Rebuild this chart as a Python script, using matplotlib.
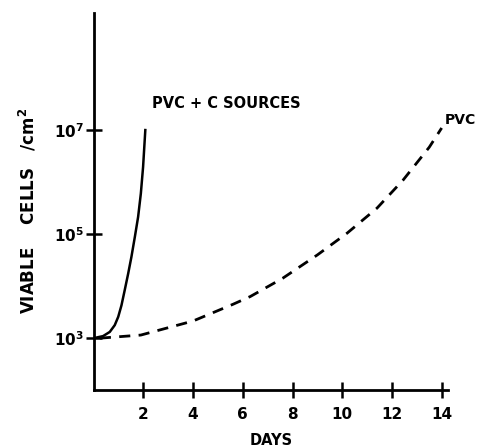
import matplotlib
matplotlib.use("Agg")
import matplotlib.pyplot as plt

# days / log10(viable cells per cm^2)
days_carbon = [0.0, 0.38, 0.65, 0.85, 0.99, 1.12, 1.25, 1.39, 1.52, 1.66,
               1.79, 1.9, 1.99, 2.08]
log_cells_carbon = [3.0, 3.04, 3.12, 3.25, 3.41, 3.63, 3.92, 4.24, 4.56, 4.95,
                    5.33, 5.78, 6.29, 7.0]

days_pvc = [0.25, 1.9, 4.0, 5.6, 6.3, 7.6, 9.0, 10.2, 11.4, 12.45, 13.5, 14.0]
log_cells_pvc = [3.0, 3.06, 3.33, 3.65, 3.8, 4.15, 4.6, 5.02, 5.5, 6.04, 6.67, 7.04]

x_ticks = [2, 4, 6, 8, 10, 12, 14]
y_ticks = [3, 5, 7]

plt.rcParams["font.family"] = ["DejaVu Sans"]
plt.rcParams["font.weight"] = "bold"
plt.rcParams["mathtext.default"] = "bf"
plt.rcParams["lines.scale_dashes"] = False

fig = plt.figure(figsize=(4.85, 4.48), dpi=100)
ax = fig.add_axes([0.193, 0.129, 0.731, 0.842])

ax.plot(days_carbon, [10 ** v for v in log_cells_carbon], color="black", lw=1.8)
ax.plot(days_pvc, [10 ** v for v in log_cells_pvc], color="black", lw=2.0,
        dashes=(8, 6))

ax.set_yscale("log")
ax.set_xlim(0, 14.26)
ax.set_ylim(10 ** 2.0, 10 ** 9.25)

for s in ["top", "right"]:
    ax.spines[s].set_visible(False)
for s in ["left", "bottom"]:
    ax.spines[s].set_linewidth(2)

ax.set_xticks(x_ticks)
ax.set_xticklabels([str(t) for t in x_ticks], fontsize=11, fontweight="bold")
ax.set_yticks([10 ** t for t in y_ticks])
ax.set_yticklabels([r"$10^{%d}$" % t for t in y_ticks], fontsize=11)
ax.yaxis.set_minor_locator(matplotlib.ticker.NullLocator())
ax.tick_params(direction="inout", length=12, width=1.8, pad=6)
ax.tick_params(axis="y", pad=1)

ax.text(2.35, 10 ** 7.52, "PVC + C SOURCES", fontsize=10.5, fontweight="bold",
        va="center", ha="left")
ax.text(14.14, 10 ** 7.19, "PVC", fontsize=10, fontweight="bold",
        va="center", ha="left", clip_on=False)

fig.text(0.559, 0.016, "DAYS", fontsize=10.5, fontweight="bold",
         ha="center", va="center")
fig.text(0.057, 0.53, r"VIABLE    CELLS   /cm$^{2}$", fontsize=12, fontweight="bold",
         rotation=90, ha="center", va="center")

fig.savefig("out.png", dpi=100)
